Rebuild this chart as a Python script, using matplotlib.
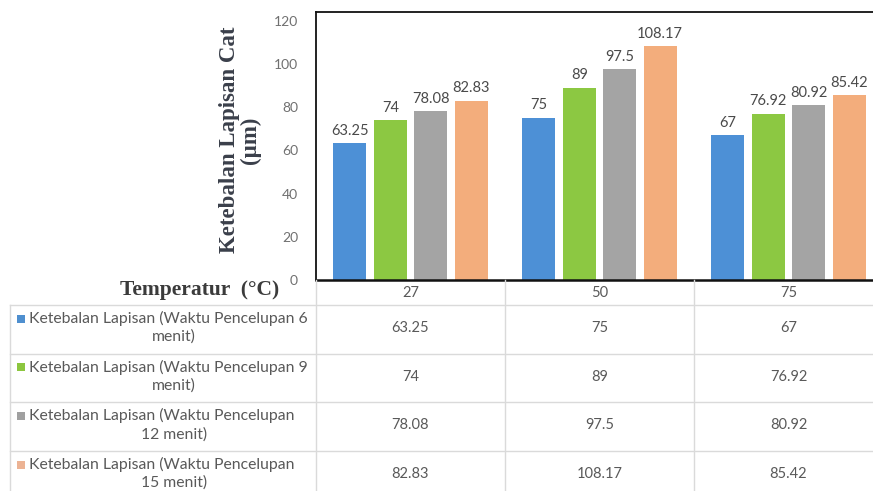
import textwrap
import matplotlib
matplotlib.use("Agg")
import matplotlib.pyplot as plt
from matplotlib import transforms
from matplotlib.patches import Rectangle

# ---- data -------------------------------------------------------------
temperatures = ["27", "50", "75"]
series_names = [
    "Ketebalan Lapisan (Waktu Pencelupan 6 menit)",
    "Ketebalan Lapisan (Waktu Pencelupan 9 menit)",
    "Ketebalan Lapisan (Waktu Pencelupan 12 menit)",
    "Ketebalan Lapisan (Waktu Pencelupan 15 menit)",
]
dip_6 = [63.25, 75, 67]
dip_9 = [74, 89, 76.92]
dip_12 = [78.08, 97.5, 80.92]
dip_15 = [82.83, 108.17, 85.42]
series_values = [dip_6, dip_9, dip_12, dip_15]
y_ticks = [0, 20, 40, 60, 80, 100, 120]

colors = ["#4d90d6", "#8cc842", "#a4a4a4", "#f3ad7c"]
key_colors = ["#4f8fcf", "#8cc63f", "#a0a0a0", "#ecb394"]

W, H = 873, 491
fig = plt.figure(figsize=(W / 100, H / 100), dpi=100)
fig.patch.set_facecolor("white")

def px_box(x0, y0, x1, y1):
    """Figure-fraction rectangle from pixel corners (origin top-left)."""
    return [x0 / W, 1 - y1 / H, (x1 - x0) / W, (y1 - y0) / H]

# ---- bar chart ---------------------------------------------------------
ax = fig.add_axes(px_box(316, 12, 883, 280))
ax.set_facecolor("none")
n = len(series_values)
spacing, bar_w = 0.214, 0.175
for k, (vals, col) in enumerate(zip(series_values, colors)):
    xs = [i + (k - (n - 1) / 2) * spacing for i in range(len(temperatures))]
    bars = ax.bar(xs, vals, width=bar_w, color=col, zorder=2)
    for b, v in zip(bars, vals):
        ax.annotate(f"{v:g}", (b.get_x() + b.get_width() / 2, v),
                    xytext=(0, 4), textcoords="offset points",
                    ha="center", va="bottom", fontsize=10.5,
                    family="Lato", color="#4a4a4a")

ax.set_xlim(-0.5, len(temperatures) - 0.5)
ax.set_ylim(0, 124)
ax.set_yticks(y_ticks)
ax.set_yticklabels([str(t) for t in y_ticks], family="Lato", fontsize=10,
                   color="#707070")
ax.tick_params(axis="y", length=0, pad=13)
ax.set_xticks([])
for side in ("left", "top", "bottom"):
    ax.spines[side].set_color("#111111")
    ax.spines[side].set_linewidth(1.3)
ax.spines["bottom"].set_linewidth(1.8)
ax.spines["right"].set_visible(False)

# ---- data table below the chart ---------------------------------------
ov = fig.add_axes([0, 0, 1, 1])
ov.set_xlim(0, W)
ov.set_ylim(H, 0)
ov.axis("off")
blend = transforms.blended_transform_factory(ax.transData, ov.transData)

grid = "#dadada"
row_top = [305, 353.7, 402.3, 451]
# horizontal rules
for y in row_top:
    ov.plot([10, W], [y, y], color=grid, lw=1)
# vertical rules
ov.plot([10, 10], [305, H], color=grid, lw=1)
ov.plot([316, 316], [280, H], color=grid, lw=1)
for i in range(1, len(temperatures)):
    ov.plot([i - 0.5, i - 0.5], [280, H], color=grid, lw=1, transform=blend)

# header row: temperatures
for i, t in enumerate(temperatures):
    ov.text(i, 293, t, transform=blend, ha="center", va="center",
            family="Lato", fontsize=10.5, color="#595959")

ov.text(200, 290, "Temperatur  (°C)", ha="center", va="center",
        family="Liberation Serif", fontweight="bold", fontsize=15.5,
        color="#3b3b3b")

for r, (name, vals) in enumerate(zip(series_names, series_values)):
    top = row_top[r]
    line1, line2 = textwrap.wrap(name, width=37)
    ov.add_patch(Rectangle((17, top + 13.5 - 4), 8, 8,
                           color=key_colors[r], lw=0))
    ov.text(29, top + 13.5, line1, ha="left", va="center", family="Lato",
            fontsize=11.3, color="#595959")
    ov.text(174, top + 32, line2, ha="center", va="center", family="Lato",
            fontsize=11.3, color="#595959")
    for i, v in enumerate(vals):
        ov.text(i, top + 23, f"{v:g}", transform=blend, ha="center",
                va="center", family="Lato", fontsize=10.5, color="#595959")

# ---- y-axis title --------------------------------------------------------
fig.text(240 / W, 1 - 140 / H, "Ketebalan Lapisan Cat\n(µm)", rotation=90,
         ha="center", va="center", multialignment="center",
         family="Liberation Serif", fontweight="bold", fontsize=16.5,
         color="#3a3f4a", linespacing=0.95)

fig.savefig("out.png", dpi=100, facecolor="white")
